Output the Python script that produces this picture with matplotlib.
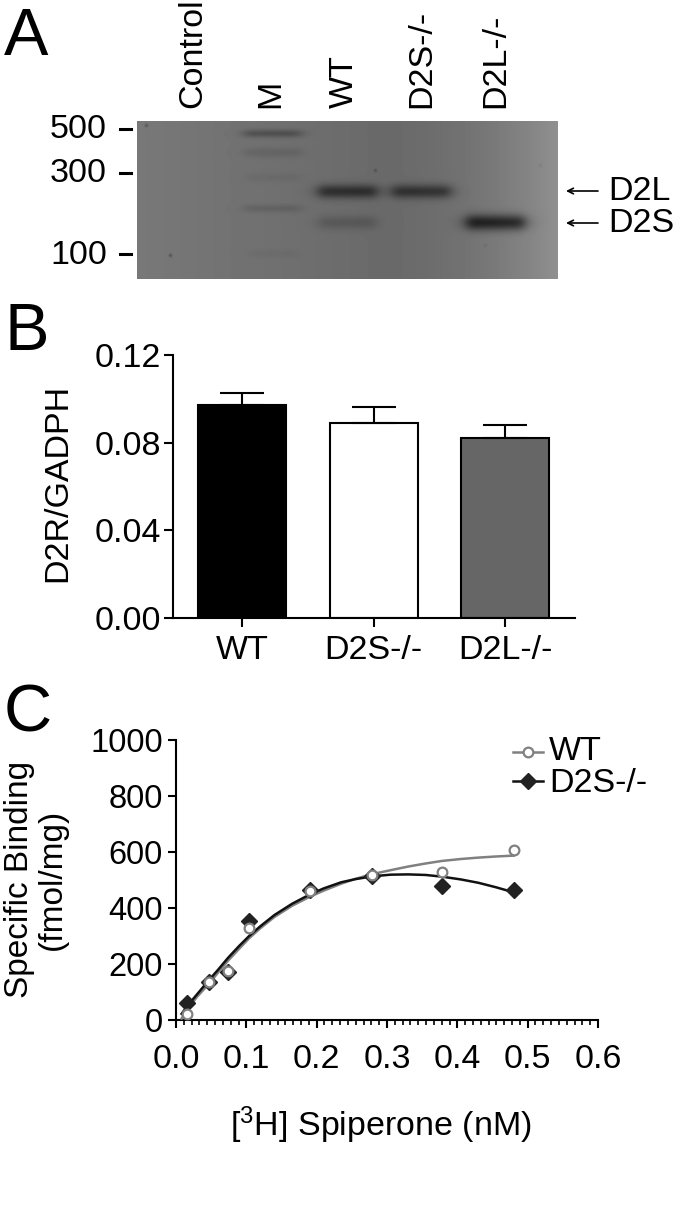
# plot.py
# Three panel figure: gel, D2R/GADPH bars, spiperone binding curves.

import numpy as np
import matplotlib
matplotlib.use('Agg')
import matplotlib.pyplot as plt

plt.rcParams['font.family'] = ['Liberation Sans', 'DejaVu Sans']
plt.rcParams['mathtext.fontset'] = 'custom'
plt.rcParams['mathtext.rm'] = 'Liberation Sans'
plt.rcParams['mathtext.default'] = 'rm'

W, H = 677, 1229
FS = 24.5

# gel: lane labels, ladder and bands read in picture pixels
lane_labels = ['Control', 'M', 'WT', 'D2S-/-', 'D2L-/-']
ladder_labels = ['500', '300', '100']
ladder_y = [129, 173, 254]
band_x = [272, 272, 272, 272, 272, 347, 347, 421, 495]
band_y = [133, 152, 177, 208, 253, 191, 222, 191, 222]
band_w = [58, 58, 55, 58, 50, 60, 58, 60, 60]
band_h = [4, 5, 5, 4, 4, 7, 7, 7, 8]
band_dark = [32, 12, 6, 14, 5, 62, 20, 58, 85]
speck_x = [146, 170, 375, 540, 485]
speck_y = [125, 255, 170, 165, 245]
speck_dark = [30, 35, 25, 10, 10]

# bars
bar_labels = ['WT', 'D2S-/-', 'D2L-/-']
bar_values = [0.097, 0.089, 0.082]
bar_errors = [0.0055, 0.0075, 0.0062]
bar_colors = ['black', 'white', '#666666']

# binding data
conc = [0.016, 0.047, 0.074, 0.104, 0.19, 0.279, 0.378, 0.48]
wt_binding = [23, 135, 174, 327, 461, 518, 530, 607]
ko_binding = [60, 135, 171, 352, 464, 515, 477, 465]

curve_x = [0.008, 0.016, 0.03, 0.047, 0.06, 0.074, 0.09, 0.104, 0.12, 0.14, 0.165, 0.19,
           0.21, 0.235, 0.255, 0.279, 0.305, 0.33, 0.355, 0.378, 0.405, 0.43, 0.455, 0.48]
wt_curve = [5, 38, 83, 130, 170, 212, 255, 292, 328, 368, 408, 440,
            462, 487, 504, 521, 535, 548, 559, 568, 575, 580, 584, 587]
ko_curve = [22, 50, 92, 143, 180, 222, 265, 300, 335, 375, 415, 448,
            470, 492, 503, 513, 519, 520, 518, 512, 502, 490, 474, 456]


def px_axes(left, top, right, bottom):
    return fig.add_axes([left / W, 1 - bottom / H, (right - left) / W, (bottom - top) / H])


fig = plt.figure(figsize=(W / 100, H / 100), dpi=100)

# full figure overlay for the free text, in pixel coordinates
over = fig.add_axes([0, 0, 1, 1], zorder=5)
over.set_xlim(0, W)
over.set_ylim(H, 0)
over.axis('off')

for letter, x, y in [('A', 4, 55), ('B', 4, 350), ('C', 4, 732)]:
    over.text(x, y, letter, fontsize=48, ha='left', va='baseline')

# panel A
gel_left, gel_top, gel_right, gel_bottom = 137, 121, 558, 279
xx, yy = np.meshgrid(np.arange(gel_left, gel_right), np.arange(gel_top, gel_bottom))
t = np.clip((xx - 380) / 178, 0, 1)
gel = 120 - 14 * np.clip((xx - gel_left) / 240, 0, 1) + 38 * t ** 2
for bx, by, bw, bh, dark in zip(band_x, band_y, band_w, band_h, band_dark):
    across = 1 / (1 + ((xx - bx) / (bw / 2)) ** 8)
    gel = gel - dark * across * np.exp(-((yy - by) / bh) ** 2)
for sx, sy, dark in zip(speck_x, speck_y, speck_dark):
    gel = gel - dark * np.exp(-((xx - sx) ** 2 + (yy - sy) ** 2) / 3)
ax_gel = px_axes(gel_left, gel_top, gel_right, gel_bottom)
ax_gel.imshow(gel, cmap='gray', vmin=0, vmax=255, aspect='auto')
ax_gel.axis('off')

for label, y in zip(ladder_labels, ladder_y):
    over.text(107, y + 1, label, fontsize=FS, ha='right', va='center')
    over.plot([120, 131], [y, y], color='black', lw=2.2)

for label, x in zip(lane_labels, [192, 270, 343, 421, 495]):
    over.text(x + 1, 108, label, fontsize=FS, rotation=90, ha='center', va='bottom')

for label, y in [('D2L', 191), ('D2S', 223)]:
    over.annotate('', xy=(566, y), xytext=(598, y),
                  arrowprops=dict(arrowstyle='->', color='black', lw=1.2, shrinkA=0, shrinkB=0))
    over.text(608, y, label, fontsize=FS, ha='left', va='center')

# panel B
ax_bar = px_axes(173, 355, 575, 618)
positions = np.arange(len(bar_values))
ax_bar.bar(positions, bar_values, width=0.67, color=bar_colors, edgecolor='black', linewidth=1.5,
           yerr=[[0] * 3, bar_errors], error_kw=dict(ecolor='black', elinewidth=1.5, capsize=16, capthick=1.5))
ax_bar.set_xlim(-0.525, 2.53)
ax_bar.set_ylim(0, 0.12)
ax_bar.set_yticks([0.00, 0.04, 0.08, 0.12], ['0.00', '0.04', '0.08', '0.12'])
ax_bar.set_xticks(positions, bar_labels)
ax_bar.tick_params(labelsize=FS, width=1.5, length=6.3, pad=2)
ax_bar.tick_params(axis='x', pad=6)
ax_bar.spines[['top', 'right']].set_visible(False)
ax_bar.spines[['left', 'bottom']].set_linewidth(1.5)
over.text(58, 483, 'D2R/GADPH', fontsize=FS, rotation=90, ha='center', va='center')

# panel C
ax_c = px_axes(176, 740, 598, 1020)
ax_c.plot(curve_x, wt_curve, color='#808080', lw=1.8, zorder=3)
ax_c.plot(curve_x, ko_curve, color='#111111', lw=1.8, zorder=4)
ax_c.plot(conc, ko_binding, ls='none', marker='D', ms=8.5, color='#222222', zorder=5, clip_on=False)
ax_c.plot(conc, wt_binding, ls='none', marker='o', ms=7, mfc='white', mec='#808080', mew=1.6, zorder=6, clip_on=False)
ax_c.set_xlim(0, 0.6)
ax_c.set_ylim(0, 1000)
ax_c.set_xticks(np.arange(0, 0.61, 0.1), ['0.0', '0.1', '0.2', '0.3', '0.4', '0.5', '0.6'])
ax_c.set_xticks(np.arange(0, 0.601, 0.1 / 9), minor=True)
ax_c.set_yticks(np.arange(0, 1001, 200))
ax_c.tick_params(labelsize=FS - 1, width=1.5, length=6)
ax_c.tick_params(axis='x', which='major', labelsize=FS, pad=11)
ax_c.tick_params(axis='x', which='minor', width=1.2, length=3.5)
ax_c.spines[['top', 'right']].set_visible(False)
ax_c.spines[['left', 'bottom']].set_linewidth(1.5)

over.text(36, 879, 'Specific Binding\n(fmol/mg)', fontsize=FS - 0.5, rotation=90, ha='center', va='center',
          linespacing=1.05, multialignment='center')
over.text(381, 1125, '[$^{3}$H] Spiperone (nM)', fontsize=FS, ha='center', va='center',
          math_fontfamily='custom')

# legend drawn by hand to sit where the original does
over.plot([513, 543], [752, 752], color='#808080', lw=1.8)
over.plot([528], [752], marker='o', ms=7, mfc='white', mec='#808080', mew=1.6)
over.plot([513, 543], [781, 781], color='#111111', lw=1.8)
over.plot([528], [781], marker='D', ms=8.5, color='#222222')
over.text(549, 752, 'WT', fontsize=FS, ha='left', va='center')
over.text(549, 783, 'D2S-/-', fontsize=FS, ha='left', va='center')

fig.savefig('out.png', dpi=100)
